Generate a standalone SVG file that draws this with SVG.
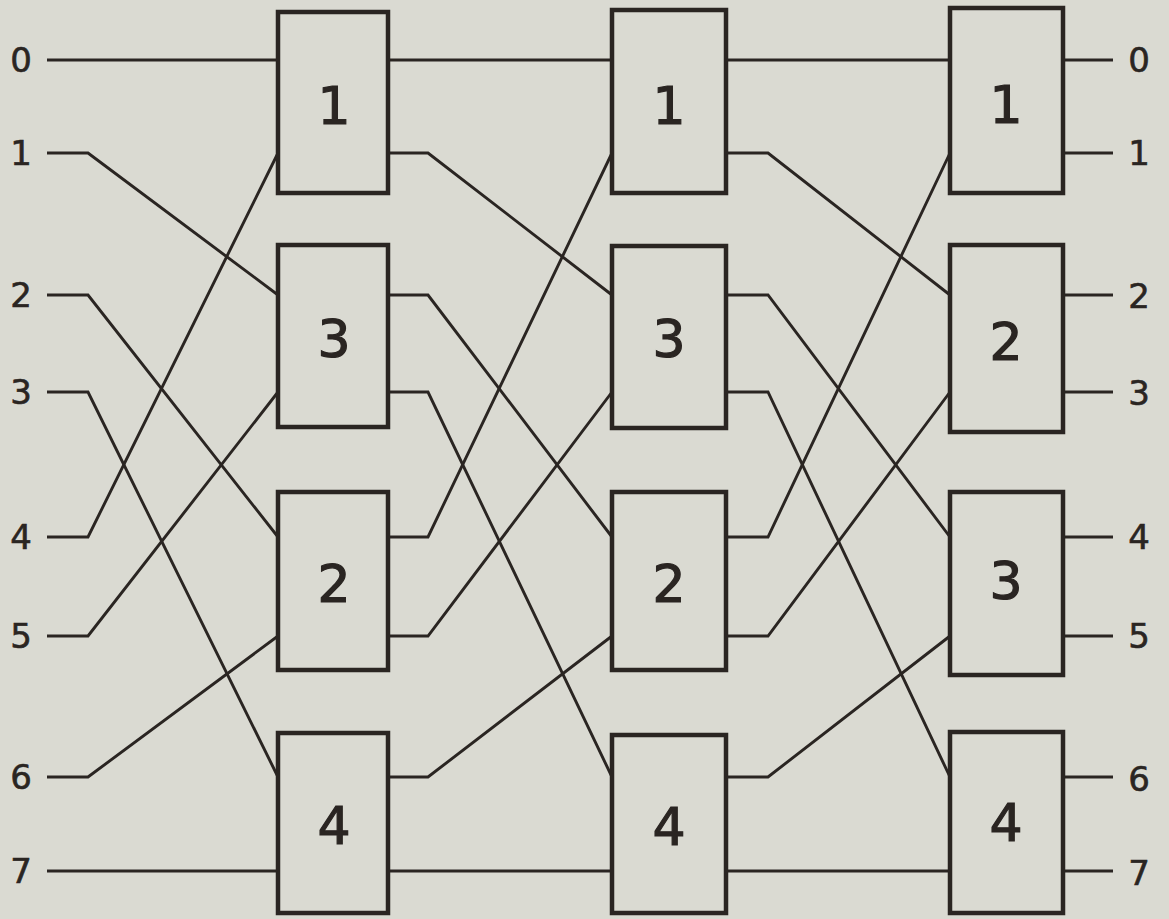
<svg xmlns="http://www.w3.org/2000/svg" width="1169" height="919" viewBox="0 0 1169 919">
<style>
.bg{fill:#dadad2}
.box{fill:#dadad2;stroke:#2a2522;stroke-width:4.5}
.w{fill:none;stroke:#2a2522;stroke-width:2.9;stroke-linejoin:miter}
.bl{font-family:"DejaVu Sans",sans-serif;font-size:52px;fill:#2a2522;stroke:#2a2522;stroke-width:1.2;text-anchor:middle}
.pl{font-family:"DejaVu Sans",sans-serif;font-size:34px;fill:#2a2522;stroke:#2a2522;stroke-width:0.6;text-anchor:middle}
</style>
<rect class="bg" x="0" y="0" width="1169" height="919"/>
<g id="connectors">
<path class="w" d="M47,60 H278"/>
<path class="w" d="M47,153 H88 L278,295"/>
<path class="w" d="M47,295 H88 L278,537"/>
<path class="w" d="M47,392 H88 L278,777"/>
<path class="w" d="M47,537 H88 L278,153"/>
<path class="w" d="M47,636 H88 L278,392"/>
<path class="w" d="M47,777 H88 L278,636"/>
<path class="w" d="M47,871 H278"/>
<path class="w" d="M388,60 H612"/>
<path class="w" d="M388,153 H428 L612,295"/>
<path class="w" d="M388,295 H428 L612,537"/>
<path class="w" d="M388,392 H428 L612,777"/>
<path class="w" d="M388,537 H428 L612,153"/>
<path class="w" d="M388,636 H428 L612,392"/>
<path class="w" d="M388,777 H428 L612,636"/>
<path class="w" d="M388,871 H612"/>
<path class="w" d="M727,60 H950"/>
<path class="w" d="M727,153 H768 L950,295"/>
<path class="w" d="M727,295 H768 L950,537"/>
<path class="w" d="M727,392 H768 L950,777"/>
<path class="w" d="M727,537 H768 L950,153"/>
<path class="w" d="M727,636 H768 L950,392"/>
<path class="w" d="M727,777 H768 L950,636"/>
<path class="w" d="M727,871 H950"/>
<path class="w" d="M1063,60 H1113"/>
<path class="w" d="M1063,153 H1113"/>
<path class="w" d="M1063,295 H1113"/>
<path class="w" d="M1063,392 H1113"/>
<path class="w" d="M1063,537 H1113"/>
<path class="w" d="M1063,636 H1113"/>
<path class="w" d="M1063,777 H1113"/>
<path class="w" d="M1063,871 H1113"/>
</g>
<g id="input-labels">
<text class="pl" x="21" y="72">0</text>
<text class="pl" x="21" y="165">1</text>
<text class="pl" x="21" y="307">2</text>
<text class="pl" x="21" y="404">3</text>
<text class="pl" x="21" y="549">4</text>
<text class="pl" x="21" y="648">5</text>
<text class="pl" x="21" y="789">6</text>
<text class="pl" x="21" y="883">7</text>
</g>
<g id="output-labels">
<text class="pl" x="1139" y="72">0</text>
<text class="pl" x="1139" y="165">1</text>
<text class="pl" x="1139" y="308">2</text>
<text class="pl" x="1139" y="405">3</text>
<text class="pl" x="1139" y="549">4</text>
<text class="pl" x="1139" y="648">5</text>
<text class="pl" x="1139" y="791">6</text>
<text class="pl" x="1139" y="885">7</text>
</g>
<g id="c1-box1"><rect class="box" x="278" y="12" width="110" height="181"/><text class="bl" x="334" y="124">1</text></g>
<g id="c1-box3"><rect class="box" x="278" y="245" width="110" height="182"/><text class="bl" x="334" y="357">3</text></g>
<g id="c1-box2"><rect class="box" x="278" y="492" width="110" height="178"/><text class="bl" x="334" y="602">2</text></g>
<g id="c1-box4"><rect class="box" x="278" y="733" width="110" height="180"/><text class="bl" x="334" y="844">4</text></g>
<g id="c2-box1"><rect class="box" x="612" y="10" width="114" height="183"/><text class="bl" x="669" y="124">1</text></g>
<g id="c2-box3"><rect class="box" x="612" y="246" width="114" height="182"/><text class="bl" x="669" y="357">3</text></g>
<g id="c2-box2"><rect class="box" x="612" y="492" width="114" height="178"/><text class="bl" x="669" y="602">2</text></g>
<g id="c2-box4"><rect class="box" x="612" y="735" width="114" height="178"/><text class="bl" x="669" y="845">4</text></g>
<g id="c3-box1"><rect class="box" x="950" y="8" width="113" height="185"/><text class="bl" x="1006" y="123">1</text></g>
<g id="c3-box2"><rect class="box" x="950" y="245" width="113" height="187"/><text class="bl" x="1006" y="360">2</text></g>
<g id="c3-box3"><rect class="box" x="950" y="492" width="113" height="183"/><text class="bl" x="1006" y="599">3</text></g>
<g id="c3-box4"><rect class="box" x="950" y="732" width="113" height="181"/><text class="bl" x="1006" y="841">4</text></g>
</svg>
